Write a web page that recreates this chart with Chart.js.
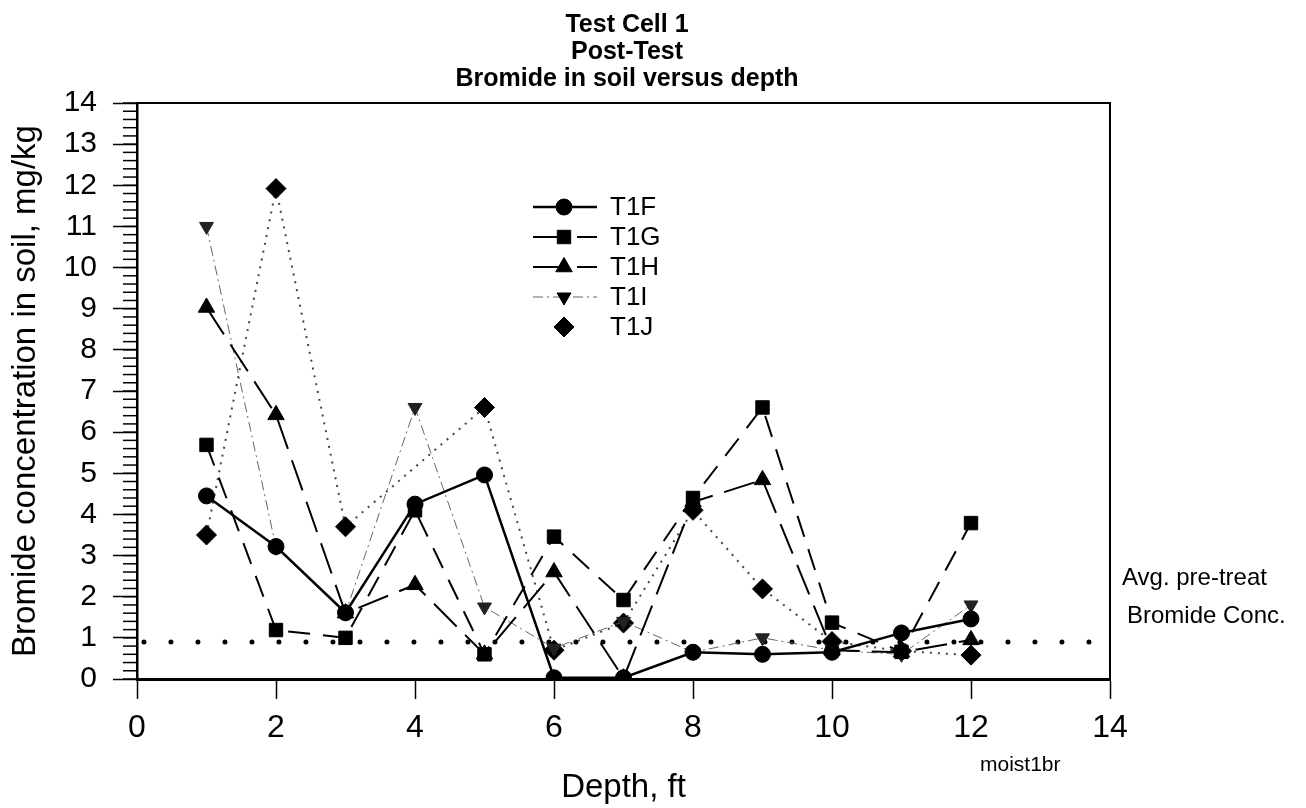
<!DOCTYPE html>
<html>
<head>
<meta charset="utf-8">
<script src="https://cdn.jsdelivr.net/npm/chart.js@4/dist/chart.umd.min.js"></script>
<style>
  html, body { margin: 0; padding: 0; background: #fff; }
  #wrap { width: 1306px; height: 808px; }
</style>
</head>
<body>
<div id="wrap"><canvas id="soilChart" width="1306" height="808"></canvas></div>
<script>
const depths = [1, 2, 3, 4, 5, 6, 7, 8, 9, 10, 11, 12];
const seriesNames = ["T1F", "T1G", "T1H", "T1I", "T1J"];
const t1f = [4.45, 3.22, 1.61, 4.25, 4.96, 0.03, 0.03, 0.65, 0.6, 0.65, 1.12, 1.46];
const t1g = [5.69, 1.19, 1.0, 4.1, 0.6, 3.46, 1.92, 4.4, 6.6, 1.37, 0.66, 3.79];
const t1h = [9.03, 6.42, 1.6, 2.29, 0.6, 2.6, 0.02, 4.3, 4.84, 0.7, 0.65, 0.95];
const t1i = [11.0, 3.2, 1.6, 6.6, 1.75, 0.75, 1.4, 0.65, 1.0, 0.7, 0.6, 1.8];
const t1j = [3.5, 11.92, 3.7, null, 6.6, 0.7, 1.36, 4.1, 2.19, 0.91, 0.68, 0.58];
const preTreatAvg = 0.9;
const preTreatRange = [0.1, 14];
const xTicks = [0, 2, 4, 6, 8, 10, 12, 14];
const yTicks = [0, 1, 2, 3, 4, 5, 6, 7, 8, 9, 10, 11, 12, 13, 14];
const titleLines = ["Test Cell 1", "Post-Test", "Bromide in soil versus depth"];

const FONT = "'Liberation Sans', Arial, sans-serif";

function toPoints(values) {
  return depths.map((d, i) => ({ x: d, y: values[i] }));
}

const styles = [
  { dash: [], width: 2.5, color: "#000", point: "circle", radius: 8, rot: 0 },
  { dash: [22, 13], width: 2, color: "#000", point: "rect", radius: 9.5, rot: 0 },
  { dash: [32, 12], width: 2, color: "#000", point: "triangle", radius: 9.5, rot: 0 },
  { dash: [10, 4, 2, 4], width: 1, color: "#666", point: "triangle", radius: 8, rot: 180 },
  { dash: [2, 6], width: 2, color: "#444", point: "rectRot", radius: 10, rot: 0 },
];
const seriesValues = [t1f, t1g, t1h, t1i, t1j];

const datasets = seriesNames.map((name, i) => ({
  label: name,
  data: toPoints(seriesValues[i]),
  borderColor: styles[i].color,
  borderWidth: styles[i].width,
  borderDash: styles[i].dash,
  pointStyle: styles[i].point,
  pointRadius: styles[i].radius,
  pointRotation: styles[i].rot,
  pointBackgroundColor: i === 3 ? "#222" : "#000",
  pointBorderColor: i === 3 ? "#222" : "#000",
  pointBorderWidth: 1,
  spanGaps: true,
  tension: 0,
  fill: false,
}));

datasets.push({
  label: "Avg. pre-treat",
  data: preTreatRange.map((x) => ({ x: x, y: preTreatAvg })),
  borderColor: "#000",
  borderWidth: 5,
  borderDash: [0, 27],
  borderCapStyle: "round",
  pointRadius: 0,
  fill: false,
});

// title, frame, minor ticks, legend and side notes
const extras = {
  id: "extras",
  afterDraw(chart) {
    const ctx = chart.ctx;
    const a = chart.chartArea;
    const ys = chart.scales.y;
    ctx.save();

    ctx.fillStyle = "#000";
    ctx.textAlign = "center";
    ctx.textBaseline = "alphabetic";
    ctx.font = "bold 25px " + FONT;
    titleLines.forEach((t, i) => ctx.fillText(t, 627, 32 + i * 27));

    ctx.strokeStyle = "#000";
    ctx.lineWidth = 2;
    ctx.beginPath();
    ctx.moveTo(a.left, a.top);
    ctx.lineTo(a.right, a.top);
    ctx.lineTo(a.right, a.bottom);
    ctx.stroke();

    ctx.lineWidth = 1.5;
    for (let v = 0; v <= 14.001; v += 0.2) {
      const py = ys.getPixelForValue(v);
      ctx.beginPath();
      ctx.moveTo(a.left - 14, py);
      ctx.lineTo(a.left, py);
      ctx.stroke();
    }

    // legend
    ctx.font = "26px " + FONT;
    ctx.textAlign = "left";
    ctx.textBaseline = "middle";
    seriesNames.forEach((name, i) => {
      const st = styles[i];
      const y = 207 + i * 30;
      ctx.strokeStyle = st.color;
      ctx.lineWidth = st.width;
      ctx.setLineDash(i === 1 ? [30, 14] : st.dash);
      if (i !== 4) {
        ctx.beginPath();
        ctx.moveTo(533, y);
        ctx.lineTo(597, y);
        ctx.stroke();
      }
      ctx.setLineDash([]);
      ctx.fillStyle = "#000";
      ctx.strokeStyle = "#000";
      ctx.lineWidth = 1;
      Chart.helpers.drawPoint(ctx, {
        pointStyle: st.point,
        radius: st.radius,
        rotation: st.rot,
        borderWidth: 1,
      }, 564, y);
      ctx.fillStyle = "#000";
      ctx.fillText(name, 610, y + 1);
    });

    ctx.font = "24px " + FONT;
    ctx.textBaseline = "middle";
    ctx.fillText("Avg. pre-treat", a.right + 12, 578);
    ctx.fillText("Bromide Conc.", a.right + 17, 616);
    ctx.font = "21px " + FONT;
    ctx.fillText("moist1br", 980, 765);
    ctx.restore();
  },
};

const ctx = document.getElementById("soilChart").getContext("2d");
const soilChart = new Chart(ctx, {
  type: "line",
  data: { datasets: datasets },
  options: {
    responsive: false,
    animation: false,
    layout: { padding: { top: 103, right: 196, bottom: 0, left: 0 } },
    plugins: {
      legend: { display: false },
      tooltip: { enabled: false },
      title: { display: false },
    },
    scales: {
      x: {
        type: "linear",
        min: 0,
        max: 14,
        afterBuildTicks: (scale) => { scale.ticks = xTicks.map((v) => ({ value: v })); },
        afterFit: (scale) => { scale.height = 129; },
        ticks: {
          color: "#000",
          padding: 10,
          font: { family: FONT, size: 32 },
        },
        grid: { drawOnChartArea: false, tickLength: 20, tickWidth: 1.5, tickColor: "#000" },
        border: { display: true, color: "#000", width: 3 },
        title: {
          display: true,
          text: "Depth, ft",
          color: "#000",
          font: { family: FONT, size: 33, lineHeight: 1.1 },
          padding: { top: 0, bottom: 2 },
        },
      },
      y: {
        min: 0,
        max: 14,
        afterBuildTicks: (scale) => { scale.ticks = yTicks.map((v) => ({ value: v })); },
        afterFit: (scale) => { scale.width = 137; },
        ticks: {
          color: "#000",
          padding: 16,
          font: { family: FONT, size: 30 },
        },
        grid: { drawOnChartArea: false, tickLength: 24, tickWidth: 1.5, tickColor: "#000" },
        border: { display: true, color: "#000", width: 2.5 },
        title: {
          display: true,
          text: "Bromide concentration in soil, mg/kg",
          color: "#000",
          font: { family: FONT, size: 33 },
          padding: { top: 6, bottom: 0 },
        },
      },
    },
  },
  plugins: [extras],
});
</script>
</body>
</html>
